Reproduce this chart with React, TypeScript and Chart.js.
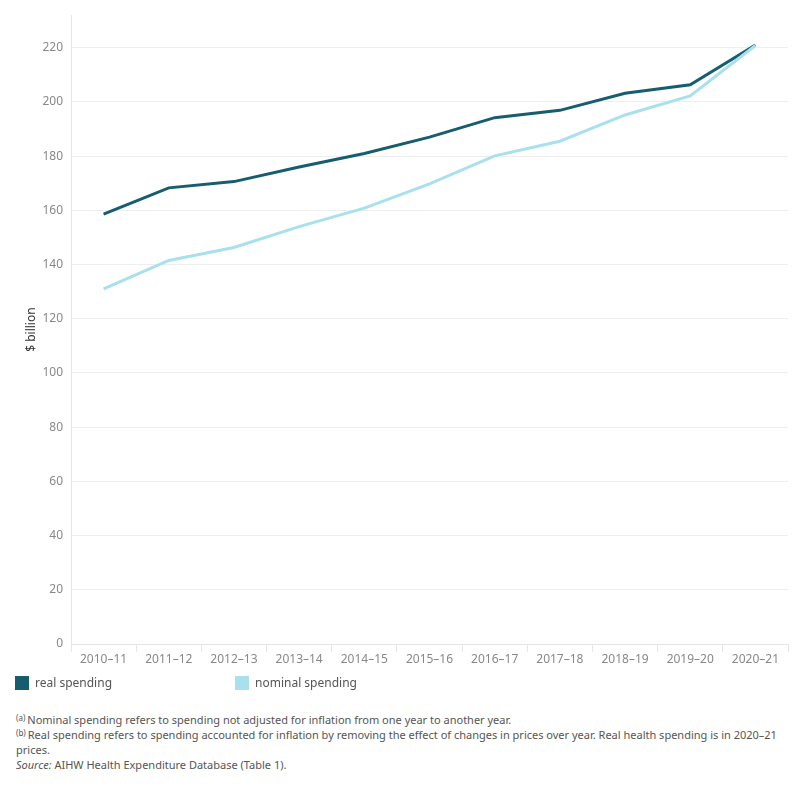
import React, { useEffect, useRef } from "react";
import { Chart, registerables } from "chart.js";

Chart.register(...registerables);

const years = [
  "2010–11", "2011–12", "2012–13", "2013–14", "2014–15", "2015–16",
  "2016–17", "2017–18", "2018–19", "2019–20", "2020–21",
];
const realSpending = [158.6, 168.3, 170.6, 176.0, 181.0, 187.0, 194.2, 196.9, 203.2, 206.3, 221.0];
const nominalSpending = [131.0, 141.5, 146.3, 154.0, 160.8, 169.8, 180.1, 185.5, 195.2, 202.2, 220.8];
const yTicks = [0, 20, 40, 60, 80, 100, 120, 140, 160, 180, 200, 220];

const REAL_COLOR = "#175d70";
const NOMINAL_COLOR = "#a8e1ed";
const FONT = "'Noto Sans', sans-serif";

export default function App() {
  const canvasRef = useRef<HTMLCanvasElement | null>(null);

  useEffect(() => {
    if (!canvasRef.current) return;
    const chart = new Chart(canvasRef.current, {
      type: "line",
      data: {
        labels: years,
        datasets: [
          {
            label: "nominal spending",
            data: nominalSpending,
            borderColor: NOMINAL_COLOR,
            backgroundColor: NOMINAL_COLOR,
            borderWidth: 3,
            pointRadius: 0,
            tension: 0,
          },
          {
            label: "real spending",
            data: realSpending,
            borderColor: REAL_COLOR,
            backgroundColor: REAL_COLOR,
            borderWidth: 3,
            pointRadius: 0,
            tension: 0,
          },
        ],
      },
      options: {
        animation: false,
        responsive: false,
        maintainAspectRatio: false,
        layout: { padding: { top: 10, right: 12, left: 0, bottom: 0 } },
        plugins: { legend: { display: false }, tooltip: { enabled: false } },
        scales: {
          x: {
            type: "category",
            offset: true,
            grid: {
              offset: true,
              drawOnChartArea: false,
              drawTicks: true,
              tickLength: 8,
              color: "#e6e6e6",
            },
            border: { color: "#e6e6e6" },
            ticks: {
              color: "#888888",
              font: { family: FONT, size: 12 },
              padding: 0,
              maxRotation: 0,
              autoSkip: false,
            },
            afterFit: (scale: any) => {
              scale.height = 36;
            },
          },
          y: {
            min: 0,
            max: 232,
            afterBuildTicks: (scale: any) => {
              scale.ticks = yTicks.map((v) => ({ value: v }));
            },
            grid: { color: "#eeeeee", drawTicks: false },
            border: { color: "#e6e6e6" },
            ticks: {
              color: "#888888",
              font: { family: FONT, size: 12 },
              padding: 8,
            },
            title: {
              display: true,
              text: "$ billion",
              color: "#333333",
              font: { family: FONT, size: 12 },
              padding: { top: 24, bottom: 0 },
            },
            afterFit: (scale: any) => {
              scale.width = 71;
            },
          },
        },
      },
    });
    return () => chart.destroy();
  }, []);

  const legendItem = (color: string, text: string, left: number) => (
    <div style={{ position: "absolute", left, top: 676, display: "flex", alignItems: "center" }}>
      <div style={{ width: 14, height: 14, background: color }} />
      <span style={{ marginLeft: 6, fontSize: 12, color: "#555555", lineHeight: "14px" }}>{text}</span>
    </div>
  );

  const sup: React.CSSProperties = { fontSize: 8, verticalAlign: "top", lineHeight: "11px", marginRight: 2 };

  return (
    <div
      style={{
        position: "absolute",
        left: 0,
        top: 0,
        width: 800,
        height: 800,
        background: "#ffffff",
        fontFamily: FONT,
      }}
    >
      <canvas ref={canvasRef} width={800} height={680} style={{ position: "absolute", left: 0, top: 0 }} />
      {legendItem(REAL_COLOR, "real spending", 15)}
      {legendItem(NOMINAL_COLOR, "nominal spending", 235)}
      <div
        style={{
          position: "absolute",
          left: 16,
          top: 712,
          width: 770,
          fontSize: 11,
          lineHeight: "15px",
          color: "#555555",
        }}
      >
        <div>
          <span style={sup}>(a)</span>Nominal spending refers to spending not adjusted for inflation from one year to another year.
        </div>
        <div>
          <span style={sup}>(b)</span>Real spending refers to spending accounted for inflation by removing the effect of changes in prices over year. Real health spending is in 2020–21 prices.
        </div>
        <div>
          <i>Source:</i> AIHW Health Expenditure Database (Table 1).
        </div>
      </div>
    </div>
  );
}
